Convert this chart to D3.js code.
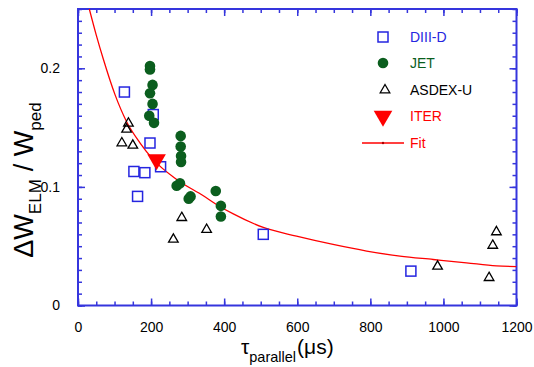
<!DOCTYPE html>
<html><head><meta charset="utf-8">
<script src="https://cdn.jsdelivr.net/npm/d3@7/dist/d3.min.js"></script>
<style>
html,body{margin:0;padding:0;background:#fff;}
svg{display:block;font-family:"Liberation Sans",Arial,Helvetica,sans-serif;}
</style></head>
<body>
<svg id="chart" width="534" height="367"></svg>
<script>
// ---- data ----
const diiidX = [127, 197, 206, 153, 183, 226, 163, 507, 911];
const diiidY = [0.180, 0.137, 0.161, 0.113, 0.112, 0.117, 0.092, 0.060, 0.029];

const jetX = [197, 197, 204, 197, 204, 195, 208, 281, 281, 282, 282, 270, 279, 303, 308, 377, 391, 391];
const jetY = [0.202, 0.199, 0.186, 0.179, 0.170, 0.160, 0.154, 0.143, 0.134, 0.126, 0.121, 0.101, 0.103, 0.090, 0.092, 0.0965, 0.084, 0.075];

const asdexX = [138, 133, 120, 150, 284, 261, 352, 984, 1145, 1135, 1125];
const asdexY = [0.1536, 0.1485, 0.137, 0.135, 0.074, 0.0557, 0.064, 0.033, 0.062, 0.0506, 0.0234];

const iterX = [215];
const iterY = [0.123];

const fitX = [31, 50, 69, 101, 133, 170, 206, 270, 343, 379, 425, 507, 598, 698, 790, 881, 972, 1063, 1145, 1200];
const fitY = [0.25, 0.228, 0.208, 0.178, 0.155, 0.137, 0.123, 0.1063, 0.0925, 0.0852, 0.0772, 0.0658, 0.0585, 0.0515, 0.0459, 0.0416, 0.0388, 0.036, 0.0334, 0.0328];

const xTicks = [0, 200, 400, 600, 800, 1000, 1200];
const yTicks = [0, 0.1, 0.2];
const legendLabels = ["DIII-D", "JET", "ASDEX-U", "ITER", "Fit"];

// ---- layout ----
const svg = d3.select("#chart");
const L = 78, R = 516.5, T = 9, B = 305.5;
const x = d3.scaleLinear().domain([0, 1200]).range([L, R]);
const y = d3.scaleLinear().domain([0, 0.25]).range([B, T]);

const axisCol = "#3535dd";
const blue = "#2525e0", green = "#0b5e1e", red = "#ff0000";

svg.append("clipPath").attr("id", "plotclip").append("rect")
  .attr("x", L).attr("y", T).attr("width", R - L).attr("height", B - T);

function addAxis(axisGen, tx, ty) {
  const g = svg.append("g").attr("transform", `translate(${tx},${ty})`).call(axisGen);
  g.select(".domain").remove();
  g.selectAll(".tick line").attr("stroke", axisCol).attr("stroke-width", 1.5);
  return g;
}
const xMinor = d3.range(0, 1201, 50);
const yMinor = d3.range(0, 0.2501, 0.01);

addAxis(d3.axisBottom(x).tickValues(xMinor).tickSize(-4).tickFormat(""), 0, B);
addAxis(d3.axisTop(x).tickValues(xMinor).tickSize(-4).tickFormat(""), 0, T);
addAxis(d3.axisLeft(y).tickValues(yMinor).tickSize(-4).tickFormat(""), L, 0);
addAxis(d3.axisRight(y).tickValues(yMinor).tickSize(-4).tickFormat(""), R, 0);

const xb = addAxis(d3.axisBottom(x).tickValues(xTicks).tickSize(-7).tickPadding(17).tickFormat(d3.format("d")), 0, B);
xb.selectAll("text").attr("fill", "#000").attr("font-size", 14).attr("font-family", "Liberation Sans, Arial, sans-serif");
addAxis(d3.axisTop(x).tickValues(xTicks).tickSize(-7).tickFormat(""), 0, T);
const yl = addAxis(d3.axisLeft(y).tickValues(yTicks).tickSize(-7).tickPadding(18).tickFormat(d => d === 0 ? "0" : d3.format(".1f")(d)), L, 0);
yl.selectAll("text").attr("fill", "#000").attr("font-size", 14).attr("font-family", "Liberation Sans, Arial, sans-serif");
addAxis(d3.axisRight(y).tickValues(yTicks).tickSize(-7).tickFormat(""), R, 0);

svg.append("rect").attr("x", L).attr("y", T).attr("width", R - L).attr("height", B - T)
  .attr("fill", "none").attr("stroke", axisCol).attr("stroke-width", 2);

const plot = svg.append("g").attr("clip-path", "url(#plotclip)");

// fit curve
const fitData = fitX.map((v, i) => [v, fitY[i]]);
plot.append("path").datum(fitData)
  .attr("d", d3.line().x(d => x(d[0])).y(d => y(d[1])).curve(d3.curveMonotoneX))
  .attr("fill", "none").attr("stroke", red).attr("stroke-width", 1.3);

const tri = d3.symbol().type(d3.symbolTriangle).size(40);
const triBig = d3.symbol().type(d3.symbolTriangle).size(150);

const asdex = asdexX.map((v, i) => [v, asdexY[i]]);
plot.selectAll(".asdex").data(asdex).enter().append("path")
  .attr("d", tri).attr("transform", d => `translate(${x(d[0])},${y(d[1])})`)
  .attr("fill", "none").attr("stroke", "#000").attr("stroke-width", 1.3);

const diiid = diiidX.map((v, i) => [v, diiidY[i]]);
plot.selectAll(".diiid").data(diiid).enter().append("rect")
  .attr("x", d => x(d[0]) - 5).attr("y", d => y(d[1]) - 5).attr("width", 10).attr("height", 10)
  .attr("fill", "none").attr("stroke", blue).attr("stroke-width", 1.5);

const jet = jetX.map((v, i) => [v, jetY[i]]);
plot.selectAll(".jet").data(jet).enter().append("circle")
  .attr("cx", d => x(d[0])).attr("cy", d => y(d[1])).attr("r", 5.3)
  .attr("fill", green);

const iter = iterX.map((v, i) => [v, iterY[i]]);
plot.selectAll(".iter").data(iter).enter().append("path")
  .attr("d", triBig).attr("transform", d => `translate(${x(d[0])},${y(d[1])}) rotate(180)`)
  .attr("fill", red);

// legend
const lg = svg.append("g");
const lx = 383, ltx = 410;
const ly = [37, 63, 90, 116, 143];
const lcol = [blue, green, "#000", red, red];
lg.append("rect").attr("x", lx - 5).attr("y", ly[0] - 5).attr("width", 10).attr("height", 10)
  .attr("fill", "none").attr("stroke", blue).attr("stroke-width", 1.5);
lg.append("circle").attr("cx", lx).attr("cy", ly[1]).attr("r", 5.3).attr("fill", green);
lg.append("path").attr("d", tri).attr("transform", `translate(${lx + 2},${ly[2]})`)
  .attr("fill", "none").attr("stroke", "#000").attr("stroke-width", 1.3);
lg.append("path").attr("d", triBig).attr("transform", `translate(${lx},${ly[3]}) rotate(180)`).attr("fill", red);
lg.append("line").attr("x1", 362).attr("x2", 404).attr("y1", ly[4]).attr("y2", ly[4])
  .attr("stroke", red).attr("stroke-width", 1.3);
lg.append("circle").attr("cx", 383).attr("cy", ly[4]).attr("r", 1.2).attr("fill", "#a00");
legendLabels.forEach((t, i) => {
  lg.append("text").attr("x", ltx).attr("y", ly[i]).attr("dy", "0.35em")
    .attr("font-size", 14).attr("fill", lcol[i]).text(t);
});

// x title
const xt = svg.append("text").attr("x", 241).attr("y", 354).attr("font-size", 21).attr("fill", "#000");
xt.append("tspan").text("τ");
xt.append("tspan").attr("font-size", 14.5).attr("dy", 8).text("parallel");
xt.append("tspan").attr("dy", -8).attr("dx", 1).text("(μs)");

// y title
const yt = svg.append("text").attr("transform", "translate(33,180) rotate(-90)")
  .attr("text-anchor", "middle").attr("font-size", 27).attr("fill", "#000");
yt.append("tspan").text("ΔW");
yt.append("tspan").attr("font-size", 17).attr("dy", 8).text("ELM");
yt.append("tspan").attr("dy", -8).attr("dx", 8).text("/ W");
yt.append("tspan").attr("font-size", 17).attr("dy", 8).text("ped");
</script>
</body></html>
